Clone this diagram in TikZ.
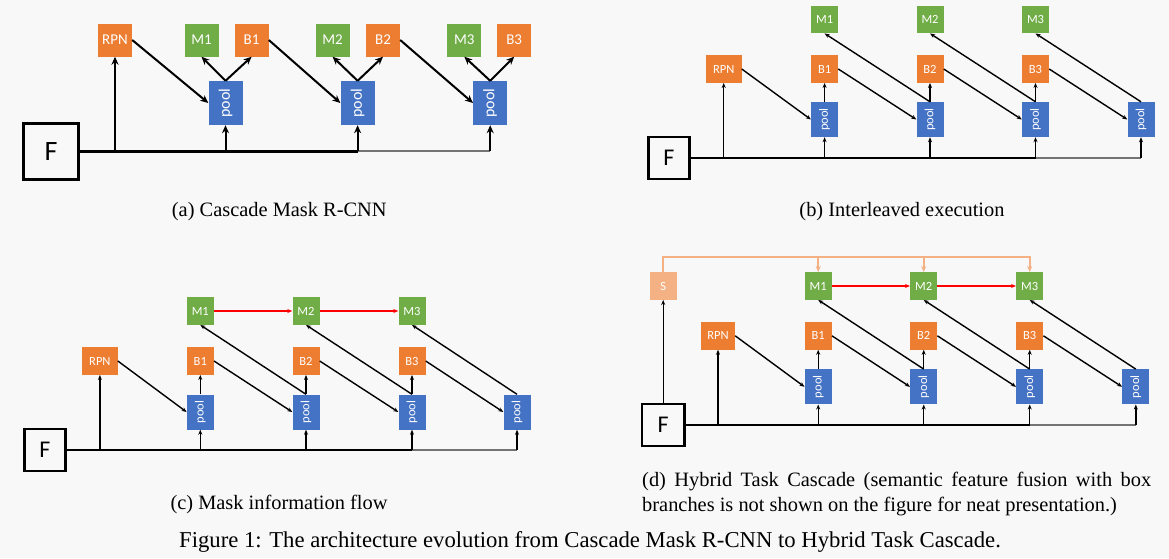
\documentclass[tikz,border=0pt]{standalone}
\usepackage{fontspec}
\setmainfont{Liberation Serif}
\setsansfont{Carlito}
\usetikzlibrary{positioning,arrows.meta}

\definecolor{boxOrange}{HTML}{ED7D31}
\definecolor{boxGreen}{HTML}{70AD47}
\definecolor{boxBlue}{HTML}{4472C4}
\definecolor{semOrange}{HTML}{F4B183}
\definecolor{pageGray}{HTML}{F8F8F8}
\newcommand{\poolLabel}{\rotatebox{90}{pool}}

\begin{document}
\begin{tikzpicture}[x=1pt, y=-1pt]
\tikzset{
    headStyle/.style={rectangle, inner sep=0pt, text=white, font=\sffamily\fontsize{12.5}{14}\selectfont, minimum width=27pt, minimum height=27.5pt},
    boxStyle/.style={headStyle, fill=boxOrange},
    maskStyle/.style={headStyle, fill=boxGreen},
    semStyle/.style={headStyle, fill=semOrange},
    poolStyle/.style={headStyle, fill=boxBlue, minimum height=35pt},
    featStyle/.style={rectangle, draw=black, line width=2.5pt, inner sep=0pt, minimum width=41pt, minimum height=42pt, font=\sffamily\fontsize{24}{26}\selectfont},
    bigSize/.style={minimum width=34pt, minimum height=33pt, font=\sffamily\fontsize{15}{17}\selectfont},
    capStyle/.style={inner sep=0pt, font=\fontsize{20.4}{25}\selectfont},
    bigArrow/.style={-{Stealth[length=8pt,width=7pt]}, line width=2pt, black},
    thinArrow/.style={-{Stealth[length=5pt,width=4pt]}, line width=1.4pt, black},
    trunkLine/.style={line width=2.5pt, black},
    tailLine/.style={line width=2pt, black!55},
    maskArrow/.style={-{Stealth[length=5pt,width=4pt]}, line width=1.4pt, red},
    semArrow/.style={-{Stealth[length=6pt,width=5pt]}, line width=2.2pt, semOrange}
}

\fill[pageGray] (0,0) rectangle (1169,558);

% (a) Cascade Mask R-CNN
\node[boxStyle, bigSize] (aRPN) at (115,40) {RPN};
\node[maskStyle, bigSize] (aM1) at (201.5,40) {M1};
\node[boxStyle, bigSize] (aB1) at (251.6,40) {B1};
\node[maskStyle, bigSize] (aM2) at (332.6,40) {M2};
\node[boxStyle, bigSize] (aB2) at (383,40) {B2};
\node[maskStyle, bigSize] (aM3) at (464.3,40) {M3};
\node[boxStyle, bigSize] (aB3) at (514.2,40) {B3};
\node[poolStyle, bigSize, minimum height=44pt, font=\sffamily\fontsize{16}{18}\selectfont] (aP1) at (225.5,103) {\poolLabel};
\node[poolStyle, bigSize, minimum height=44pt, font=\sffamily\fontsize{16}{18}\selectfont] (aP2) at (357.6,103) {\poolLabel};
\node[poolStyle, bigSize, minimum height=44pt, font=\sffamily\fontsize{16}{18}\selectfont] (aP3) at (490.2,103) {\poolLabel};
\node[featStyle, line width=3pt, minimum width=55pt, minimum height=56pt, font=\sffamily\fontsize{28}{30}\selectfont] (aF) at (51,151.3) {F};

\draw[trunkLine, line width=3pt] (aF.east) -- (aF.east -| aP2.south);
\draw[tailLine] (aF.east -| aP2.south) -- (aF.east -| aP3.south);
\draw[bigArrow] (aF.east -| aRPN.south) -- (aRPN.south);
\draw[bigArrow] (aF.east -| aP1.south) -- (aP1.south);
\draw[bigArrow] (aF.east -| aP2.south) -- (aP2.south);
\draw[bigArrow] (aF.east -| aP3.south) -- (aP3.south);
\draw[bigArrow] (aRPN.east) -- (aP1.west);
\draw[bigArrow] (aB1.east) -- (aP2.west);
\draw[bigArrow] (aB2.east) -- (aP3.west);
\draw[bigArrow] (aP1.north) -- (aM1.south);
\draw[bigArrow] (aP1.north) -- (aB1.south);
\draw[bigArrow] (aP2.north) -- (aM2.south);
\draw[bigArrow] (aP2.north) -- (aB2.south);
\draw[bigArrow] (aP3.north) -- (aM3.south);
\draw[bigArrow] (aP3.north) -- (aB3.south);

\node[capStyle] (aCap) at (279.3,212) {(a) Cascade Mask R-CNN};

% (b) Interleaved execution
\node[maskStyle] (bM1) at (824.6,19.5) {M1};
\node[maskStyle] (bM2) at (930,19.5) {M2};
\node[maskStyle] (bM3) at (1035.5,19.5) {M3};
\node[boxStyle, minimum width=35.7pt] (bRPN) at (723.7,69) {RPN};
\node[boxStyle] (bB1) at (824.6,69) {B1};
\node[boxStyle] (bB2) at (930,69) {B2};
\node[boxStyle] (bB3) at (1035.5,69) {B3};
\node[poolStyle] (bP1) at (824.6,119.5) {\poolLabel};
\node[poolStyle] (bP2) at (930,119.5) {\poolLabel};
\node[poolStyle] (bP3) at (1035.5,119.5) {\poolLabel};
\node[poolStyle] (bP4) at (1141,119.5) {\poolLabel};
\node[featStyle] (bF) at (669,158) {F};

\draw[trunkLine] (bF.east) -- (bF.east -| bP3.south);
\draw[tailLine] (bF.east -| bP3.south) -- (bF.east -| bP4.south);
\draw[thinArrow] (bF.east -| bRPN.south) -- (bRPN.south);
\draw[thinArrow] (bF.east -| bP1.south) -- (bP1.south);
\draw[thinArrow] (bF.east -| bP2.south) -- (bP2.south);
\draw[thinArrow] (bF.east -| bP3.south) -- (bP3.south);
\draw[thinArrow] (bF.east -| bP4.south) -- (bP4.south);
\draw[thinArrow] (bRPN.east) -- (bP1.west);
\draw[thinArrow] (bB1.east) -- (bP2.west);
\draw[thinArrow] (bB2.east) -- (bP3.west);
\draw[thinArrow] (bB3.east) -- (bP4.west);
\draw[thinArrow] (bP1.north) -- (bB1.south);
\draw[thinArrow] (bP2.north) -- (bB2.south);
\draw[thinArrow] (bP3.north) -- (bB3.south);
\draw[thinArrow] (bP2.north) -- (bM1.south);
\draw[thinArrow] (bP3.north) -- (bM2.south);
\draw[thinArrow] (bP4.north) -- (bM3.south);

\node[capStyle] (bCap) at (902,212) {(b) Interleaved execution};

% (c) Mask information flow
\node[maskStyle] (cM1) at (200.3,311) {M1};
\node[maskStyle] (cM2) at (306,311) {M2};
\node[maskStyle] (cM3) at (412,311) {M3};
\node[boxStyle, minimum width=35.5pt] (cRPN) at (99.9,361) {RPN};
\node[boxStyle] (cB1) at (200.3,361) {B1};
\node[boxStyle] (cB2) at (306,361) {B2};
\node[boxStyle] (cB3) at (412,361) {B3};
\node[poolStyle] (cP1) at (200.3,412) {\poolLabel};
\node[poolStyle] (cP2) at (306,412) {\poolLabel};
\node[poolStyle] (cP3) at (412,412) {\poolLabel};
\node[poolStyle] (cP4) at (517,412) {\poolLabel};
\node[featStyle] (cF) at (45,450) {F};

\draw[trunkLine] (cF.east) -- (cF.east -| cP3.south);
\draw[tailLine] (cF.east -| cP3.south) -- (cF.east -| cP4.south);
\draw[thinArrow] (cF.east -| cRPN.south) -- (cRPN.south);
\draw[thinArrow] (cF.east -| cP1.south) -- (cP1.south);
\draw[thinArrow] (cF.east -| cP2.south) -- (cP2.south);
\draw[thinArrow] (cF.east -| cP3.south) -- (cP3.south);
\draw[thinArrow] (cF.east -| cP4.south) -- (cP4.south);
\draw[thinArrow] (cRPN.east) -- (cP1.west);
\draw[thinArrow] (cB1.east) -- (cP2.west);
\draw[thinArrow] (cB2.east) -- (cP3.west);
\draw[thinArrow] (cB3.east) -- (cP4.west);
\draw[thinArrow] (cP1.north) -- (cB1.south);
\draw[thinArrow] (cP2.north) -- (cB2.south);
\draw[thinArrow] (cP3.north) -- (cB3.south);
\draw[thinArrow] (cP2.north) -- (cM1.south);
\draw[thinArrow] (cP3.north) -- (cM2.south);
\draw[thinArrow] (cP4.north) -- (cM3.south);
\draw[maskArrow] (cM1.east) -- (cM2.west);
\draw[maskArrow] (cM2.east) -- (cM3.west);

\node[capStyle] (cCap) at (279,504) {(c) Mask information flow};

% (d) Hybrid Task Cascade
\node[semStyle] (dS) at (663.2,286) {S};
\node[maskStyle] (dM1) at (818.2,286) {M1};
\node[maskStyle] (dM2) at (923.7,286) {M2};
\node[maskStyle] (dM3) at (1029.7,286) {M3};
\node[boxStyle, minimum width=34pt] (dRPN) at (718,335.8) {RPN};
\node[boxStyle] (dB1) at (818.2,335.8) {B1};
\node[boxStyle] (dB2) at (923.7,335.8) {B2};
\node[boxStyle] (dB3) at (1029.7,335.8) {B3};
\node[poolStyle] (dP1) at (818.2,386.8) {\poolLabel};
\node[poolStyle] (dP2) at (923.7,386.8) {\poolLabel};
\node[poolStyle] (dP3) at (1029.7,386.8) {\poolLabel};
\node[poolStyle] (dP4) at (1135.8,386.8) {\poolLabel};
\node[featStyle, minimum width=42.8pt] (dF) at (663.2,424.8) {F};
\coordinate (dBus) at (663.2,257);

\draw[trunkLine] (dF.east) -- (dF.east -| dP3.south);
\draw[tailLine] (dF.east -| dP3.south) -- (dF.east -| dP4.south);
\draw[thinArrow] (dF.north) -- (dS.south);
\draw[thinArrow] (dF.east -| dRPN.south) -- (dRPN.south);
\draw[thinArrow] (dF.east -| dP1.south) -- (dP1.south);
\draw[thinArrow] (dF.east -| dP2.south) -- (dP2.south);
\draw[thinArrow] (dF.east -| dP3.south) -- (dP3.south);
\draw[thinArrow] (dF.east -| dP4.south) -- (dP4.south);
\draw[thinArrow] (dRPN.east) -- (dP1.west);
\draw[thinArrow] (dB1.east) -- (dP2.west);
\draw[thinArrow] (dB2.east) -- (dP3.west);
\draw[thinArrow] (dB3.east) -- (dP4.west);
\draw[thinArrow] (dP1.north) -- (dB1.south);
\draw[thinArrow] (dP2.north) -- (dB2.south);
\draw[thinArrow] (dP3.north) -- (dB3.south);
\draw[thinArrow] (dP2.north) -- (dM1.south);
\draw[thinArrow] (dP3.north) -- (dM2.south);
\draw[thinArrow] (dP4.north) -- (dM3.south);
\draw[maskArrow] (dM1.east) -- (dM2.west);
\draw[maskArrow] (dM2.east) -- (dM3.west);
\draw[semArrow] (dS.north) -- (dBus) -| (dM3.north);
\draw[semArrow] (dBus -| dM1.north) -- (dM1.north);
\draw[semArrow] (dBus -| dM2.north) -- (dM2.north);

\node[capStyle, anchor=base west] (dCap) at (642,486) {\parbox[t]{509pt}{(d) Hybrid Task Cascade (semantic feature fusion with box\linebreak branches is not shown on the figure for neat presentation.)}};

\node[inner sep=0pt, anchor=base west, font=\fontsize{22.7}{27}\selectfont] (figCap) at (179,547) {Figure 1: The architecture evolution from Cascade Mask R-CNN to Hybrid Task Cascade.};
\end{tikzpicture}
\end{document}
